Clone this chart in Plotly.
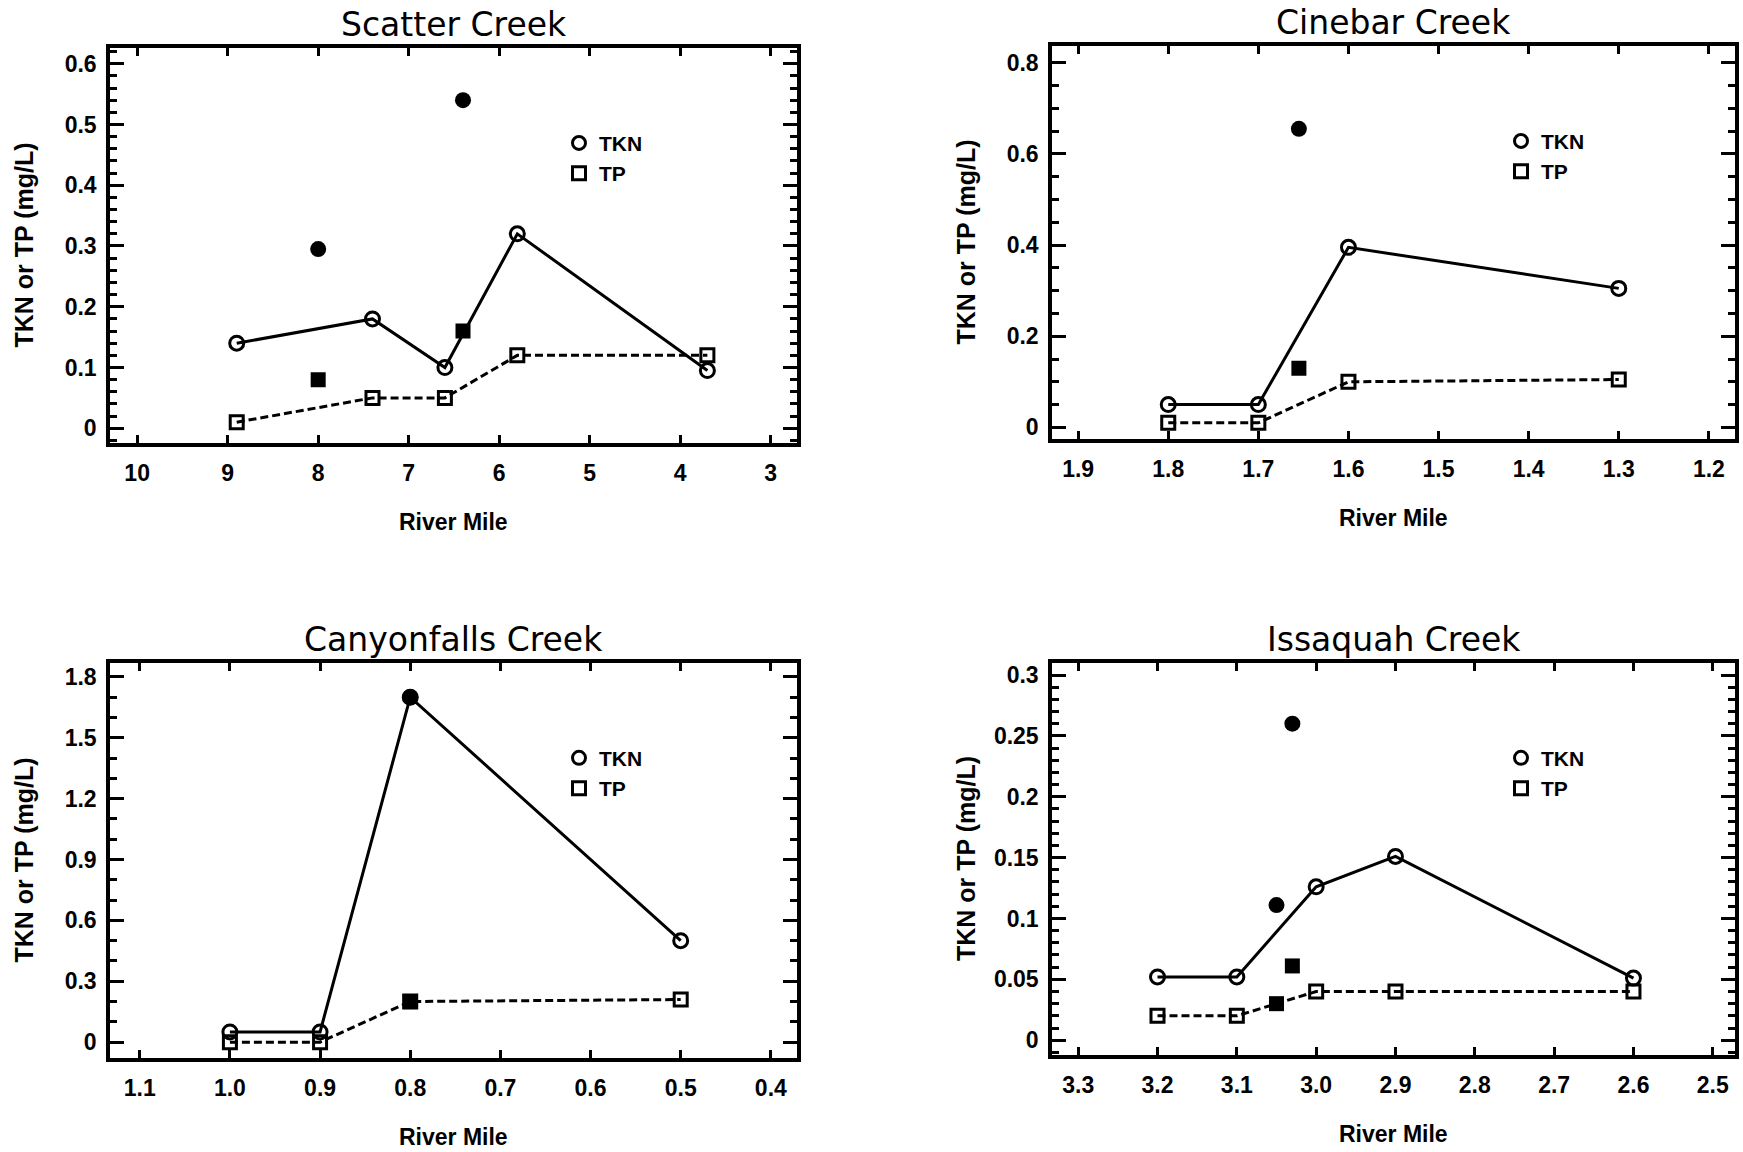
import plotly.graph_objects as go

# ---------------- data ----------------
scatter_mile = [8.9, 7.4, 6.6, 5.8, 3.7]
scatter_tkn = [0.14, 0.18, 0.10, 0.32, 0.095]
scatter_tp = [0.01, 0.05, 0.05, 0.12, 0.12]
scatter_trib_mile = [8.0, 6.4]
scatter_trib_tkn = [0.295, 0.54]
scatter_trib_tp = [0.08, 0.16]

cinebar_mile = [1.8, 1.7, 1.6, 1.3]
cinebar_tkn = [0.05, 0.05, 0.395, 0.305]
cinebar_tp = [0.01, 0.01, 0.10, 0.105]
cinebar_trib_mile = [1.655]
cinebar_trib_tkn = [0.655]
cinebar_trib_tp = [0.13]

canyon_mile = [1.0, 0.9, 0.8, 0.5]
canyon_tkn = [0.05, 0.05, 1.70, 0.50]
canyon_tp = [0.0, 0.0, 0.20, 0.21]
canyon_trib_mile = [0.8]
canyon_trib_tkn = [1.70]
canyon_trib_tp = [0.20]

issaquah_mile = [3.2, 3.1, 3.0, 2.9, 2.6]
issaquah_tkn = [0.052, 0.052, 0.126, 0.151, 0.051]
issaquah_tp = [0.02, 0.02, 0.04, 0.04, 0.04]
issaquah_trib_mile = [3.05, 3.03]
issaquah_trib_tkn = [0.111, 0.26]
issaquah_trib_tp = [0.03, 0.061]

titles = ["Scatter Creek", "Cinebar Creek", "Canyonfalls Creek", "Issaquah Creek"]
series_names = ["TKN", "TP"]
x_title = "River Mile"
y_title = "TKN or TP (mg/L)"

panels = [
    dict(mile=scatter_mile, tkn=scatter_tkn, tp=scatter_tp,
         tmile=scatter_trib_mile, ttkn=scatter_trib_tkn, ttp=scatter_trib_tp,
         xr=[10.3, 2.71], yr=[-0.0246, 0.626], xd=1, yd=0.1, ym=0.02, fmt="d"),
    dict(mile=cinebar_mile, tkn=cinebar_tkn, tp=cinebar_tp,
         tmile=cinebar_trib_mile, ttkn=cinebar_trib_tkn, ttp=cinebar_trib_tp,
         xr=[1.929, 1.171], yr=[-0.026, 0.837], xd=0.1, yd=0.2, ym=0.05, fmt=".1f"),
    dict(mile=canyon_mile, tkn=canyon_tkn, tp=canyon_tp,
         tmile=canyon_trib_mile, ttkn=canyon_trib_tkn, ttp=canyon_trib_tp,
         xr=[1.133, 0.371], yr=[-0.079, 1.869], xd=0.1, yd=0.3, ym=0.1, fmt=".1f"),
    dict(mile=issaquah_mile, tkn=issaquah_tkn, tp=issaquah_tp,
         tmile=issaquah_trib_mile, ttkn=issaquah_trib_tkn, ttp=issaquah_trib_tp,
         xr=[3.333, 2.472], yr=[-0.0123, 0.31], xd=0.1, yd=0.05, ym=0.01, fmt=".1f"),
]

# ---------------- layout geometry (pixels) ----------------
W, H = 1743, 1152
frames = [  # left, right, top, bottom
    (110, 797, 47, 443),
    (1052, 1735, 45, 439),
    (110, 797, 663, 1059),
    (1052, 1735, 663, 1056),
]

BLACK = "#000000"
TICKFONT = dict(family="Liberation Sans, Arial, sans-serif", size=23, color=BLACK, weight="bold")
LEGFONT = dict(family="Liberation Sans, Arial, sans-serif", size=21, color=BLACK, weight="bold")
TITLEFONT = dict(family="DejaVu Sans, sans-serif", size=33, color=BLACK)
AXTFONT = dict(family="Liberation Sans, Arial, sans-serif", size=23, color=BLACK, weight="bold")
YTFONT = dict(family="Liberation Sans, Arial, sans-serif", size=25, color=BLACK, weight="bold")

fig = go.Figure()
annotations = []
layout = dict(width=W, height=H, margin=dict(l=0, r=0, t=0, b=0),
              paper_bgcolor="white", plot_bgcolor="white", showlegend=True)

for i, (p, fr) in enumerate(zip(panels, frames), start=1):
    xa = "x" if i == 1 else f"x{i}"
    ya = "y" if i == 1 else f"y{i}"
    leg = "legend" if i == 1 else f"legend{i}"
    l, r, t, b = fr
    xdom = [l / W, r / W]
    ydom = [1 - b / H, 1 - t / H]

    fig.add_trace(go.Scatter(
        x=p["mile"], y=p["tkn"], xaxis=xa, yaxis=ya, mode="lines+markers",
        line=dict(color=BLACK, width=3),
        marker=dict(symbol="circle-open", size=14, color=BLACK, line=dict(width=3)),
        showlegend=False, cliponaxis=False))
    fig.add_trace(go.Scatter(
        x=p["mile"], y=p["tp"], xaxis=xa, yaxis=ya, mode="lines+markers",
        line=dict(color=BLACK, width=3, dash="8px,4px"),
        marker=dict(symbol="square-open", size=13, color=BLACK, line=dict(width=3)),
        showlegend=False, cliponaxis=False))
    fig.add_trace(go.Scatter(
        x=p["tmile"], y=p["ttkn"], xaxis=xa, yaxis=ya, mode="markers",
        marker=dict(symbol="circle", size=16, color=BLACK),
        showlegend=False))
    fig.add_trace(go.Scatter(
        x=p["tmile"], y=p["ttp"], xaxis=xa, yaxis=ya, mode="markers",
        marker=dict(symbol="square", size=15, color=BLACK),
        showlegend=False))
    # legend entries (marker only)
    for name, sym in zip(series_names, ["circle-open", "square-open"]):
        fig.add_trace(go.Scatter(
            x=[None], y=[None], xaxis=xa, yaxis=ya, mode="markers", name=name,
            legend=leg, legendgroup=f"{leg}{name}",
            marker=dict(symbol=sym, size=13, color=BLACK, line=dict(width=3))))

    axis_common = dict(showline=True, linecolor=BLACK, linewidth=3.5, mirror="allticks",
                       ticks="inside", tickcolor=BLACK, tickwidth=3,
                       showgrid=False, zeroline=False, tickfont=TICKFONT)
    layout["xaxis" if i == 1 else f"xaxis{i}"] = dict(
        axis_common, domain=xdom, anchor=ya, range=p["xr"], autorange=False,
        tick0=0, dtick=p["xd"], ticklen=8, ticklabelstandoff=6,
        tickformat=p["fmt"])
    layout["yaxis" if i == 1 else f"yaxis{i}"] = dict(
        axis_common, domain=ydom, anchor=xa, range=p["yr"], autorange=False,
        tick0=0, dtick=p["yd"], ticklen=14, ticklabelstandoff=5,
        minor=dict(dtick=p["ym"], tick0=0, ticks="inside", ticklen=7,
                   tickwidth=3, tickcolor=BLACK, showgrid=False))
    layout[leg] = dict(
        x=(l + 449) / W, y=1 - (t + 75) / H, xanchor="left", yanchor="top",
        bgcolor="rgba(0,0,0,0)", borderwidth=0, font=LEGFONT,
        tracegroupgap=0, itemwidth=30)

    cx = (l + r) / 2
    annotations.append(dict(text=titles[i - 1], x=cx / W, y=1 - (t - 23) / H,
                            xref="paper", yref="paper", showarrow=False,
                            xanchor="center", yanchor="middle", font=TITLEFONT))
    annotations.append(dict(text=x_title, x=cx / W, y=1 - (b + 79) / H,
                            xref="paper", yref="paper", showarrow=False,
                            xanchor="center", yanchor="middle", font=AXTFONT))
    annotations.append(dict(text=y_title, x=(l - 86) / W, y=1 - ((t + b) / 2) / H,
                            xref="paper", yref="paper", showarrow=False, textangle=-90,
                            xanchor="center", yanchor="middle", font=YTFONT))

layout["annotations"] = annotations
fig.update_layout(**layout)
fig.write_html("out.html")
